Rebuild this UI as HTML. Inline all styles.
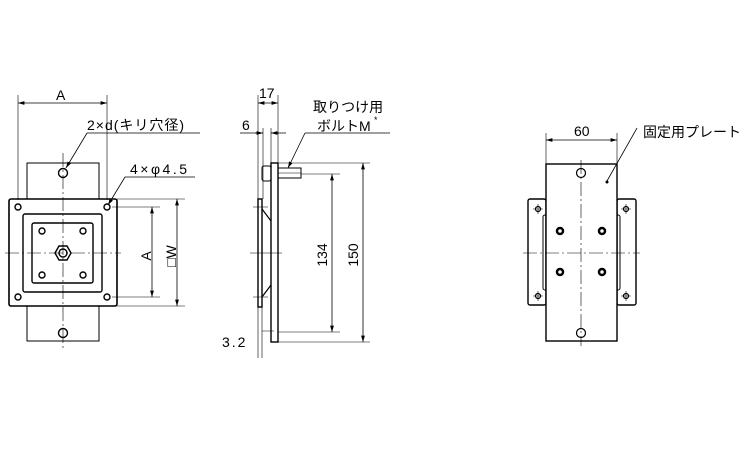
<!DOCTYPE html><html><head><meta charset="utf-8"><style>body{margin:0;background:#fff}svg{display:block}text{font-family:"Liberation Sans","Noto Sans CJK JP",sans-serif;font-size:14px;fill:#000}</style></head><body>
<svg width="750" height="450" viewBox="0 0 750 450" xmlns="http://www.w3.org/2000/svg">
<defs><marker id="a" viewBox="0 0 10 10" refX="10" refY="5" markerWidth="8" markerHeight="8" orient="auto-start-reverse"><path d="M0,2 L10,5 L0,8z" fill="#000"/></marker></defs>
<g stroke="#000" fill="none" stroke-width="1">
<rect x="27" y="163" width="72" height="36" fill="#fff"/>
<rect x="27" y="306" width="72" height="35"/>
<rect x="9" y="199" width="108" height="107" rx="2" stroke-width="1.6"/>
<rect x="23" y="214" width="79" height="78" rx="2" stroke-width="1.4"/>
<rect x="32" y="223" width="61" height="60" rx="2" stroke-width="1.4"/>
<g stroke-width="1.4"><circle cx="18" cy="207" r="3"/><circle cx="107" cy="207" r="3"/><circle cx="18" cy="297" r="3"/><circle cx="107" cy="297" r="3"/>
<circle cx="42" cy="231" r="3"/><circle cx="83" cy="231" r="3"/><circle cx="42" cy="275" r="3"/><circle cx="83" cy="275" r="3"/>
<circle cx="63" cy="173" r="4.5"/><circle cx="63" cy="333" r="4.5"/>
<path d="M55,253 l4,-7 h8 l4,7 l-4,7 h-8z"/><circle cx="63" cy="253" r="4"/></g>
<path d="M5,253 H121 M63,153 V348" stroke-width="0.6" stroke-dasharray="14 3 2 3"/>
<path d="M18,95 V200 M107,95 V200" stroke-width="0.6"/>
<path d="M18,103 H107" marker-start="url(#a)" marker-end="url(#a)" stroke-width="0.8"/>
<path d="M87,133 H200 M87,133 L66,168" stroke-width="0.8" marker-end="url(#a)"/>
<path d="M125,177 H195 M125,177 L108,205" stroke-width="0.8" marker-end="url(#a)"/>
<path d="M112,207 H160 M112,297 H160 M117,199 H185 M117,306 H185" stroke-width="0.6"/>
<path d="M152,207 V297" marker-start="url(#a)" marker-end="url(#a)" stroke-width="0.8"/>
<path d="M177,199 V306" marker-start="url(#a)" marker-end="url(#a)" stroke-width="0.8"/>
<rect x="271" y="163" width="7" height="179" stroke-width="1.4"/>
<rect x="262" y="166" width="9" height="15" rx="2"/>
<rect x="278" y="168" width="23" height="10"/>
<path d="M278,173 H301" stroke-width="0.5"/>
<rect x="258" y="199" width="4" height="108" stroke-width="1.4"/>
<path d="M262,209 L271,221 M262,297 L271,285" stroke-width="1.2"/>
<path d="M253,207 H268 M253,297 H268 M250,253 H282 M262,331 H274" stroke-width="0.6"/>
<path d="M258,95 V358 M262,307 V358 M278,95 V163 M263,128 V199 M271,128 V163" stroke-width="0.6"/>
<path d="M258,103 H278" marker-start="url(#a)" marker-end="url(#a)" stroke-width="0.8"/>
<path d="M240,133 H263 M271,133 H286" stroke-width="0.8"/>
<path d="M255,133 H263" marker-end="url(#a)" stroke-width="0.8"/><path d="M279,133 H271" marker-end="url(#a)" stroke-width="0.8"/>
<path d="M305,133 H390 M305,133 L288,168" stroke-width="0.8" marker-end="url(#a)"/>
<path d="M278,163 H370 M301,174 H340 M278,332 H340 M278,342 H370" stroke-width="0.6"/>
<path d="M332,174 V332" marker-start="url(#a)" marker-end="url(#a)" stroke-width="0.8"/>
<path d="M363,163 V342" marker-start="url(#a)" marker-end="url(#a)" stroke-width="0.8"/>
<rect x="528" y="199" width="18" height="106" rx="2" stroke-width="1.4"/>
<rect x="617" y="199" width="19" height="106" rx="2" stroke-width="1.4"/>
<rect x="543" y="215" width="4" height="75" rx="2"/><rect x="616" y="215" width="4" height="75" rx="2"/>
<rect x="546" y="164" width="71" height="177" fill="#fff" stroke-width="1.4"/>
<g stroke-width="1.2"><circle cx="538" cy="209" r="2.5"/><circle cx="626" cy="209" r="2.5"/><circle cx="538" cy="296" r="2.5"/><circle cx="626" cy="296" r="2.5"/>
<circle cx="581" cy="173" r="4.5"/><circle cx="581" cy="333" r="4.5"/></g>
<g stroke-width="2.5"><circle cx="560" cy="231" r="3"/><circle cx="602" cy="231" r="3"/><circle cx="560" cy="272" r="3"/><circle cx="602" cy="272" r="3"/></g>
<path d="M523,253 H640 M581,160 V346 M533,209 H543 M538,204 V214 M621,209 H631 M626,204 V214 M533,296 H543 M538,291 V301 M621,296 H631 M626,291 V301" stroke-width="0.6" stroke-dasharray="14 3 2 3"/>
<path d="M546,133 V164 M617,133 V164" stroke-width="0.6"/>
<path d="M546,140 H617" marker-start="url(#a)" marker-end="url(#a)" stroke-width="0.8"/>
<path d="M637,128 L607,181" stroke-width="0.8"/>
</g>
<circle cx="607" cy="182" r="1.5"/>
<text x="56" y="100">A</text>
<text x="87" y="130" letter-spacing="1">2×d(キリ穴径)</text>
<text x="130" y="174" letter-spacing="2.5">4×φ4.5</text>
<text transform="translate(151,256) rotate(-90)" text-anchor="middle">A</text>
<text transform="translate(176,256) rotate(-90)" text-anchor="middle">□W</text>
<text x="259" y="98">17</text>
<text x="242" y="130">6</text>
<text x="313" y="112">取りつけ用</text>
<text x="317" y="131">ボルトM</text><text x="374" y="123" style="font-size:9px">*</text>
<text transform="translate(327,255) rotate(-90)" text-anchor="middle">134</text>
<text transform="translate(358,255) rotate(-90)" text-anchor="middle">150</text>
<text x="222" y="347" letter-spacing="2">3.2</text>
<text x="574" y="136">60</text>
<text x="643" y="137">固定用プレート</text>
</svg></body></html>
